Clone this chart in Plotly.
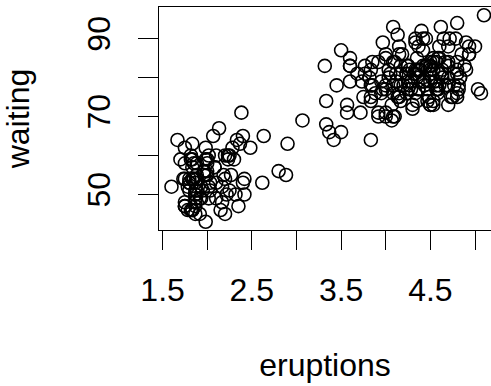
import plotly.graph_objects as go

eruptions = [3.600,1.800,3.333,2.283,4.533,2.883,4.700,3.600,1.950,4.350,1.833,3.917,4.200,1.750,4.700,2.167,1.750,4.800,1.600,4.250,
1.800,1.750,3.450,3.067,4.533,3.600,1.967,4.083,3.850,4.433,4.300,4.467,3.367,4.033,3.833,2.017,1.867,4.833,1.833,4.783,
4.350,1.883,4.567,1.750,4.533,3.317,3.833,2.100,4.633,2.000,4.800,4.716,1.833,4.833,1.733,4.883,3.717,1.667,4.567,4.317,
2.233,4.500,1.750,4.800,1.817,4.400,4.167,4.700,2.067,4.700,4.033,1.967,4.500,4.000,1.983,5.067,2.017,4.567,3.883,3.600,
4.133,4.333,4.100,2.633,4.067,4.933,3.950,4.517,2.167,4.000,2.200,4.333,1.867,4.817,1.833,4.300,4.667,3.750,1.867,4.900,
2.483,4.367,2.100,4.500,4.050,1.867,4.700,1.783,4.850,3.683,4.733,2.300,4.900,4.417,1.700,4.633,2.317,4.600,1.817,4.417,
2.617,4.067,4.250,1.967,4.600,3.767,1.917,4.500,2.267,4.650,1.867,4.167,2.800,4.333,1.833,4.383,1.883,4.933,2.033,3.733,
4.233,2.233,4.533,4.817,4.333,1.983,4.633,2.017,5.100,1.800,5.033,4.000,2.400,4.600,3.567,4.000,4.500,4.083,1.800,3.967,
2.200,4.150,2.000,3.833,3.500,4.583,2.367,5.000,1.933,4.617,1.917,2.083,4.583,3.333,4.167,4.333,4.500,2.417,4.000,4.167,
1.883,4.583,4.250,3.767,2.033,4.433,4.083,1.833,4.417,2.183,4.800,1.833,4.800,4.100,3.966,4.233,3.500,4.366,2.250,4.667,
2.100,4.350,4.133,1.867,4.600,1.783,4.367,3.850,1.933,4.500,2.383,4.700,1.867,3.833,3.417,4.233,2.400,4.800,2.000,4.150,
1.867,4.267,1.750,4.483,4.000,4.117,4.083,4.267,3.917,4.550,4.083,2.417,4.183,2.217,4.450,1.883,1.850,4.283,3.950,2.333,
4.150,2.350,4.933,2.900,4.583,3.833,2.083,4.367,2.133,4.350,2.200,4.450,3.567,4.500,4.150,3.817,3.917,4.450,2.000,4.283,
4.767,4.533,1.850,4.250,1.983,2.250,4.750,4.117,2.150,4.417,1.817,4.467]

waiting = [79,54,74,62,85,55,88,85,51,85,54,84,78,47,83,52,62,84,52,79,
51,47,78,69,74,83,55,76,78,79,73,77,66,80,74,52,48,80,59,90,
80,58,84,58,73,83,64,53,82,59,75,90,54,80,54,83,71,64,77,81,
59,84,48,82,60,92,78,78,65,73,82,56,79,71,62,76,60,78,76,83,
75,82,70,65,73,88,76,80,48,86,60,90,50,78,63,72,84,75,51,82,
62,88,49,83,81,47,84,52,86,81,75,59,89,79,59,81,50,85,59,87,
53,69,77,56,88,81,45,82,55,90,45,83,56,89,46,82,51,86,53,79,
81,60,82,77,76,59,80,49,96,53,77,77,65,81,71,70,81,93,53,89,
45,86,58,78,66,76,63,88,52,93,49,57,77,68,81,81,73,50,85,74,
55,77,83,83,51,78,84,46,83,55,81,57,76,84,77,81,87,77,51,78,
60,82,91,53,78,46,77,84,49,83,71,80,49,75,64,76,53,94,55,76,
50,82,54,75,78,79,78,78,70,79,70,54,86,50,90,54,54,77,79,64,
75,47,86,63,85,82,57,82,67,74,54,83,73,73,88,80,71,83,56,79,
78,84,58,83,43,60,75,81,46,90,46,74]

x_tick_vals = [1.5, 2.0, 2.5, 3.0, 3.5, 4.0, 4.5, 5.0]
x_tick_text = ["1.5", "", "2.5", "", "3.5", "", "4.5", ""]
y_tick_vals = [50, 60, 70, 80, 90]
y_tick_text = ["50", "", "70", "", "90"]

FONT = "Liberation Sans, Arial, Helvetica, sans-serif"
FS = 32

fig = go.Figure(go.Scatter(
    x=eruptions, y=waiting, mode="markers",
    marker=dict(symbol="circle-open", size=13, color="black", line=dict(width=1.6, color="black")),
    cliponaxis=True, showlegend=False,
))

fig.update_layout(
    width=491, height=386,
    margin=dict(l=158.7, r=0, t=7.4, b=155.8, pad=0),
    paper_bgcolor="white", plot_bgcolor="white",
    font=dict(family=FONT, size=FS, color="black"),
)
fig.update_xaxes(
    range=[1.46, 5.179], showgrid=False, zeroline=False,
    showline=True, linecolor="black", linewidth=1.3, mirror=True,
    tickmode="array", tickvals=x_tick_vals, ticktext=x_tick_text,
    ticks="outside", ticklen=19, tickwidth=1.3, tickcolor="black",
    ticklabelstandoff=12,
    title=dict(text="eruptions", standoff=47, font=dict(size=FS)),
)
fig.update_yaxes(
    range=[40.88, 98.12], showgrid=False, zeroline=False,
    showline=True, linecolor="black", linewidth=1.3, mirror=False,
    tickmode="array", tickvals=y_tick_vals, ticktext=y_tick_text,
    ticks="outside", ticklen=20, tickwidth=1.3, tickcolor="black",
    tickangle=-90, ticklabelstandoff=15,
    title=dict(text="waiting", standoff=43, font=dict(size=FS)),
)

fig.write_html("out.html")
